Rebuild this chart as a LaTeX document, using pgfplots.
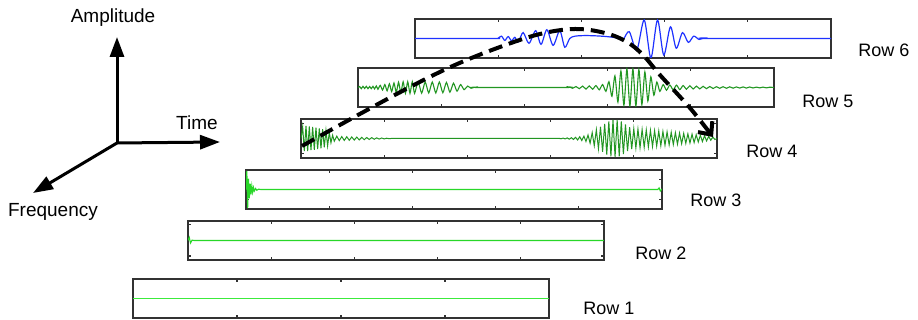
\documentclass[border=0pt]{standalone}
\usepackage{pgfplots}
\pgfplotsset{compat=1.18}
\usepackage{fontspec}
\setmainfont{Liberation Sans}
\usetikzlibrary{arrows.meta}
\definecolor{gA}{RGB}{60,235,60}
\definecolor{gB}{RGB}{40,215,40}
\definecolor{gC}{RGB}{34,150,34}
\definecolor{bL}{RGB}{30,50,255}
\definecolor{fr}{RGB}{50,50,50}
\pgfplotsset{rowax/.style={width=208pt, height=19.5pt, scale only axis,
  xmin=0, xmax=1, ymin=-1, ymax=1, xticklabels={}, yticklabels={},
  xtick={0.2,0.4,0.6,0.8}, ytick=\empty,
  tick align=inside, major tick length=1.6pt,
  axis line style={draw=fr, line width=0.7pt},
  tick style={fr, line width=0.6pt},
  anchor=north west, clip=true,
  every axis plot/.append style={line width=0.55pt, mark=none}}}
\begin{document}
\begin{tikzpicture}
\useasboundingbox (0pt,0pt) rectangle (459pt,160pt);
% Row 1
\begin{axis}[rowax, at={(66.5pt,20.5pt)}, xtick={0.25,0.5,0.75}]
\addplot[gA, line width=0.9pt] coordinates {(0,0)(1,0)};
\end{axis}
% Row 2
\begin{axis}[rowax, at={(94pt,49.5pt)}, ytick={-0.8,0.8}]
\addplot[gB] coordinates {(0,0)(0.003,0.16)(0.006,-0.13)(0.01,0.02)(0.014,0)(1,0)};
\end{axis}
% Row 3
\begin{axis}[rowax, at={(123pt,75pt)}, ytick={-0.5,0.5}]
\addplot[gB] coordinates {(0,0)(0.002,0.95)(0.004,-0.95)(0.006,0.55)(0.008,-0.45)(0.010,0.3)(0.012,-0.25)(0.014,0.18)(0.016,-0.14)(0.018,0.1)(0.020,-0.08)(0.023,0.05)(0.026,-0.04)(0.03,0.02)(0.035,0)(0.99,0)(0.993,0.08)(0.996,-0.08)(1,0.03)};
\end{axis}
% Row 4
\begin{axis}[rowax, at={(150.5pt,100.5pt)}, ytick={-0.75,0.75}]
\addplot[gC, line width=0.5pt] coordinates {
(0.000,0.0)(0.004,0.6)(0.008,-0.65)(0.012,0.65)(0.016,-0.65)(0.020,0.62)(0.024,-0.6)(0.028,0.6)(0.032,-0.58)(0.036,0.56)(0.040,-0.54)(0.044,0.52)(0.048,-0.5)(0.052,0.48)(0.056,-0.45)(0.060,0.42)(0.064,-0.38)(0.068,0.3)(0.072,-0.22)(0.076,0.17)(0.080,-0.14)(0.086,0.12)(0.092,-0.11)(0.098,0.1)(0.104,-0.1)(0.110,0.09)(0.116,-0.09)(0.122,0.08)(0.128,-0.08)(0.134,0.07)(0.140,-0.07)(0.146,0.06)(0.152,-0.06)(0.158,0.05)(0.164,-0.05)(0.170,0.045)(0.176,-0.04)(0.182,0.035)(0.188,-0.03)(0.194,0.025)(0.200,-0.02)(0.206,0.015)(0.212,-0.01)(0.218,0.005)(0.224,0)
(0.620,0.01)(0.625,-0.015)(0.630,0.02)(0.635,-0.02)(0.640,0.03)(0.645,-0.035)(0.650,0.04)(0.655,-0.05)(0.660,0.06)(0.665,-0.075)(0.670,0.09)(0.675,-0.105)(0.680,0.12)(0.685,-0.15)(0.690,0.18)(0.695,-0.24)(0.700,0.30)(0.705,-0.37)(0.710,0.45)(0.715,-0.52)(0.720,0.60)(0.725,-0.68)(0.730,0.75)(0.735,-0.82)(0.740,0.88)(0.745,-0.92)(0.750,0.95)(0.755,-0.95)(0.760,0.95)(0.765,-0.92)(0.770,0.88)(0.775,-0.8)(0.780,0.72)(0.785,-0.65)(0.790,0.58)(0.795,-0.54)(0.800,0.50)(0.805,-0.49)(0.810,0.48)(0.815,-0.47)(0.820,0.46)(0.825,-0.45)(0.830,0.44)(0.835,-0.43)(0.840,0.42)(0.845,-0.41)(0.850,0.40)(0.855,-0.39)(0.860,0.38)(0.865,-0.37)(0.870,0.36)(0.875,-0.35)(0.880,0.34)(0.885,-0.33)(0.890,0.32)(0.895,-0.31)(0.900,0.30)(0.905,-0.29)(0.910,0.28)(0.915,-0.27)(0.920,0.26)(0.925,-0.25)(0.930,0.24)(0.935,-0.23)(0.940,0.22)(0.945,-0.21)(0.950,0.195)(0.955,-0.18)(0.960,0.17)(0.965,-0.155)(0.970,0.14)(0.975,-0.125)(0.980,0.11)(0.985,-0.09)(0.990,0.07)(0.995,-0.05)(1.000,0.0)};
\end{axis}
% Row 5
\begin{axis}[rowax, at={(179pt,126pt)}]
\addplot[gC, smooth, tension=0.4] coordinates {
(0.000,0)(0.004,0.05)(0.008,-0.06)(0.012,0.06)(0.016,-0.05)(0.020,0.06)(0.024,-0.06)(0.028,0.05)(0.032,-0.06)(0.036,0.06)(0.040,-0.07)(0.044,0.08)(0.048,-0.09)(0.0535,0.11)(0.059,-0.13)(0.0645,0.15)(0.070,-0.17)(0.0755,0.19)(0.081,-0.21)(0.0865,0.23)(0.092,-0.25)(0.0975,0.27)(0.103,-0.28)(0.1085,0.29)(0.114,-0.3)(0.1195,0.3)(0.125,-0.3)(0.1305,0.3)(0.136,-0.3)(0.1445,0.3)(0.153,-0.29)(0.1615,0.28)(0.170,-0.28)(0.1785,0.28)(0.187,-0.28)(0.1955,0.28)(0.204,-0.27)(0.2125,0.26)(0.221,-0.24)(0.2295,0.22)(0.238,-0.19)(0.2465,0.15)(0.255,-0.11)(0.2635,0.07)(0.272,-0.04)(0.2805,0.02)(0.289,0)
(0.500,0)(0.508,0.03)(0.516,-0.04)(0.524,0.05)(0.532,-0.06)(0.540,0.07)(0.548,-0.08)(0.556,0.08)(0.564,-0.09)(0.572,0.1)(0.580,-0.12)(0.588,0.15)(0.596,-0.2)(0.6032,0.3)(0.6104,-0.45)(0.6176,0.6)(0.6248,-0.75)(0.632,0.85)(0.6392,-0.92)(0.6464,0.95)(0.6536,-0.95)(0.6608,0.95)(0.668,-0.95)(0.6752,0.92)(0.6824,-0.88)(0.6896,0.8)(0.6968,-0.7)(0.704,0.55)(0.7112,-0.4)(0.7184,0.28)(0.7256,-0.2)(0.7336,0.15)(0.7416,-0.14)(0.7496,0.13)(0.7576,-0.12)(0.7656,0.12)(0.7736,-0.11)(0.7816,0.1)(0.7896,-0.09)(0.7976,0.09)(0.8056,-0.08)(0.8136,0.07)(0.8216,-0.07)(0.8296,0.06)(0.8376,-0.06)(0.8456,0.05)(0.8536,-0.05)(0.8616,0.04)(0.8696,-0.04)(0.8776,0.04)(0.8856,-0.04)(0.8936,0.035)(0.9016,-0.035)(0.9096,0.03)(0.9176,-0.03)(0.9256,0.03)(0.9336,-0.03)(0.9416,0.025)(0.9496,-0.025)(0.9576,0.02)(0.9656,-0.02)(0.9736,0.02)(0.9816,-0.02)(0.9896,0.015)(1.000,0)};
\end{axis}
% Row 6
\begin{axis}[rowax, at={(207.5pt,150.5pt)}]
\addplot[bL, line width=0.6pt, smooth, tension=0.5] coordinates {
(0,0)(0.19,0)(0.2,0.02)(0.208,0.12)(0.216,-0.1)(0.224,0.1)(0.232,-0.12)(0.24,0.06)(0.248,-0.18)(0.26,0.3)(0.274,-0.25)(0.29,0.4)(0.303,-0.3)(0.317,0.45)(0.332,-0.35)(0.348,0.4)(0.36,-0.45)(0.372,0.0)(0.385,0.12)(0.41,0.15)(0.44,0.13)(0.465,0.09)(0.485,0.03)(0.5,-0.05)(0.515,0.35)(0.533,-0.6)(0.551,0.95)(0.567,-1.0)(0.583,0.95)(0.598,-0.85)(0.614,0.6)(0.628,-0.5)(0.643,0.3)(0.657,-0.2)(0.67,0.12)(0.683,-0.05)(0.695,0.03)(0.705,0)(1,0)};
\end{axis}
% row labels
\tikzset{rl/.style={anchor=west, inner sep=0pt, font=\fontsize{9}{10}\selectfont}}
\node[rl] at (429pt,135pt) {Row 6};
\node[rl] at (401pt,109.5pt) {Row 5};
\node[rl] at (373pt,84.5pt) {Row 4};
\node[rl] at (345pt,60pt) {Row 3};
\node[rl] at (317.5pt,33.5pt) {Row 2};
\node[rl] at (291.5pt,6pt) {Row 1};
% 3D axes icon
\draw[line width=1.5pt, -{Triangle[length=10pt,width=7pt]}] (58.5pt,88.5pt) -- (58.5pt,141.5pt);
\draw[line width=1.5pt, -{Triangle[length=10pt,width=7pt]}] (58.5pt,88.5pt) -- (110pt,89pt);
\draw[line width=1.5pt, -{Triangle[length=10pt,width=7pt]}] (58.5pt,88.5pt) -- (16.5pt,63.5pt);
\node[font=\fontsize{9.5}{11}\selectfont] at (56.5pt,151pt) {Amplitude};
\node[font=\fontsize{9.5}{11}\selectfont] at (98.5pt,98.5pt) {Time};
\node[font=\fontsize{9.5}{11}\selectfont] at (26.5pt,54pt) {Frequency};
% dashed arrow
\draw[line width=2pt, dash pattern=on 7pt off 3.5pt, -{Straight Barb[length=5pt,width=9pt]}]
 plot[smooth, tension=0.6] coordinates {(151pt,87pt)(179pt,102.5pt)(205pt,116.5pt)(227.5pt,127.5pt)(250pt,136.5pt)(270pt,143pt)(287.5pt,145.5pt)(302.5pt,143.5pt)(313.5pt,139pt)(321.5pt,132.5pt)(330pt,122.5pt)(345pt,106pt)(356.5pt,91.5pt)};
\end{tikzpicture}
\end{document}
